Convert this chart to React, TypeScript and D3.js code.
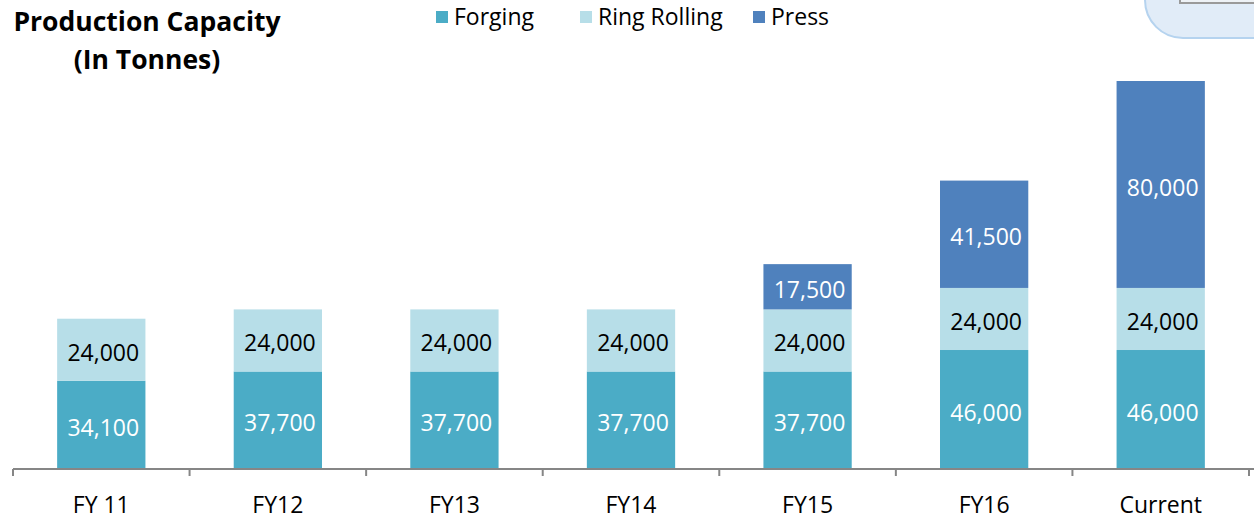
import React, { useEffect, useRef } from 'react';
import * as d3 from 'd3';

const categories = ['FY 11', 'FY12', 'FY13', 'FY14', 'FY15', 'FY16', 'Current'];
const forging = [34100, 37700, 37700, 37700, 37700, 46000, 46000];
const ringRolling = [24000, 24000, 24000, 24000, 24000, 24000, 24000];
const press = [0, 0, 0, 0, 17500, 41500, 80000];

const seriesNames = ['Forging', 'Ring Rolling', 'Press'];
const seriesColors = ['#4BACC6', '#B7DEE8', '#4F81BD'];
const labelColors = ['#ffffff', '#000000', '#ffffff'];

const FONT = "'Open Sans', 'Noto Sans', sans-serif";

const App: React.FC = () => {
  const svgRef = useRef<SVGSVGElement>(null);
  const width = 1254;
  const height = 521;

  useEffect(() => {
    if (!svgRef.current) return;
    const svg = d3.select(svgRef.current);
    svg.selectAll('*').remove();

    const left = 13;
    const right = 1249;
    const axisY = 469;

    const x = d3.scaleBand<string>()
      .domain(categories)
      .range([left, right])
      .paddingInner(0.5)
      .paddingOuter(0.25);

    const y = d3.scaleLinear()
      .domain([0, 150000])
      .range([axisY, 81]);

    const rows = categories.map((c, i) => ({
      cat: c,
      Forging: forging[i],
      'Ring Rolling': ringRolling[i],
      Press: press[i]
    }));

    const stack = d3.stack<any>().keys(seriesNames)(rows);

    // decorative shape in the top right corner
    const deco = svg.append('g');
    deco.append('rect')
      .attr('x', 1145)
      .attr('y', -70)
      .attr('width', 160)
      .attr('height', 108)
      .attr('rx', 38)
      .attr('fill', '#e1ecf8')
      .attr('stroke', '#b5d3ef')
      .attr('stroke-width', 2);
    deco.append('rect')
      .attr('x', 1180)
      .attr('y', -20)
      .attr('width', 100)
      .attr('height', 23)
      .attr('fill', '#eef2f6')
      .attr('stroke', '#9a9a9a')
      .attr('stroke-width', 2);

    // title
    const title = svg.append('text')
      .attr('font-family', FONT)
      .attr('font-weight', 'bold')
      .attr('font-size', 26.5)
      .attr('text-anchor', 'middle')
      .attr('fill', '#000');
    title.append('tspan').attr('x', 147).attr('y', 31).text('Production Capacity');
    title.append('tspan').attr('x', 147).attr('y', 69).text('(In Tonnes)');

    // legend
    const legendX = [436, 580, 753];
    seriesNames.forEach((name, i) => {
      const lg = svg.append('g').attr('transform', `translate(${legendX[i]},0)`);
      lg.append('rect')
        .attr('x', 0)
        .attr('y', 11)
        .attr('width', 12)
        .attr('height', 12)
        .attr('fill', seriesColors[i]);
      lg.append('text')
        .attr('x', 18)
        .attr('y', 25)
        .attr('font-family', FONT)
        .attr('font-size', 23)
        .attr('fill', '#000')
        .text(name);
    });

    // bars
    stack.forEach((layer, si) => {
      const g = svg.append('g');
      layer.forEach((d, i) => {
        const v = d[1] - d[0];
        if (v <= 0) return;
        const bx = x(categories[i])!;
        g.append('rect')
          .attr('x', bx)
          .attr('y', y(d[1]))
          .attr('width', x.bandwidth())
          .attr('height', y(d[0]) - y(d[1]))
          .attr('fill', seriesColors[si]);
        g.append('text')
          .attr('x', bx + x.bandwidth() / 2 + 2)
          .attr('y', (y(d[0]) + y(d[1])) / 2)
          .attr('dy', '0.48em')
          .attr('text-anchor', 'middle')
          .attr('font-family', FONT)
          .attr('font-size', 23)
          .attr('fill', labelColors[si])
          .text(d3.format(',')(v));
      });
    });

    // axis
    const axis = svg.append('g');
    axis.append('line')
      .attr('x1', left)
      .attr('x2', width)
      .attr('y1', axisY)
      .attr('y2', axisY)
      .attr('stroke', '#868686')
      .attr('stroke-width', 2);
    const bounds = categories.map(c => x(c)! - x.step() * 0.25);
    bounds.push(right);
    axis.selectAll('line.tick')
      .data(bounds)
      .enter()
      .append('line')
      .attr('class', 'tick')
      .attr('x1', d => d)
      .attr('x2', d => d)
      .attr('y1', axisY)
      .attr('y2', axisY + 7)
      .attr('stroke', '#868686')
      .attr('stroke-width', 2);

    axis.selectAll('text')
      .data(categories)
      .enter()
      .append('text')
      .attr('x', d => x(d)! + x.bandwidth() / 2)
      .attr('y', 513)
      .attr('text-anchor', 'middle')
      .attr('font-family', FONT)
      .attr('font-size', 23)
      .attr('fill', '#000')
      .text(d => d);
  }, []);

  return (
    <svg
      ref={svgRef}
      width={width}
      height={height}
      style={{ position: 'absolute', left: 0, top: 0, background: '#fff' }}
    />
  );
};

export default App;
